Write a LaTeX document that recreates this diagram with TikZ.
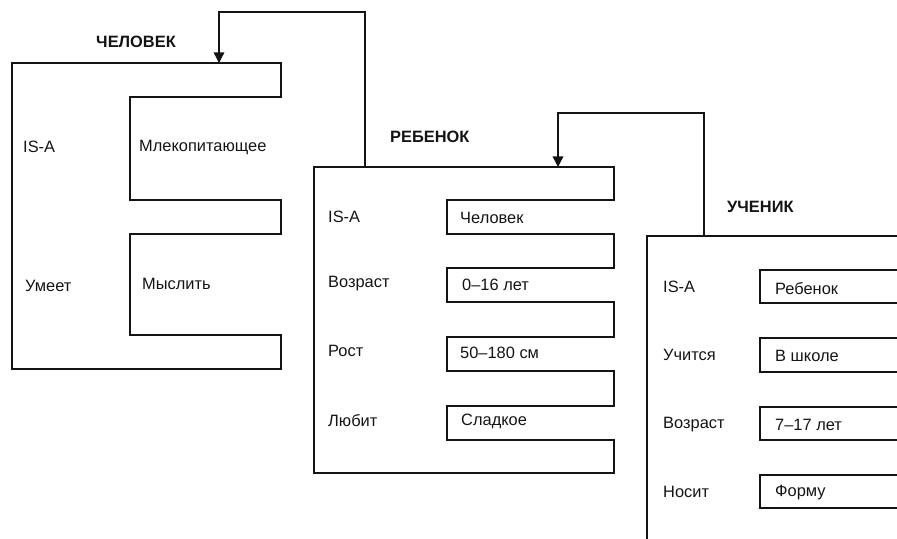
\documentclass[tikz,border=0pt]{standalone}
\usepackage{fontspec}
\setmainfont{Liberation Sans}
\usetikzlibrary{arrows.meta}
\definecolor{qqqqqq}{rgb}{0.08,0.08,0.08}

\begin{document}
\begin{tikzpicture}[line cap=round,line join=miter,>={Triangle[length=9pt,width=9pt]},x=0.03cm,y=-0.03cm,
  frame/.style={color=qqqqqq,line width=1.3pt},
  link/.style={->,color=qqqqqq,line width=1.2pt},
  slot/.style={anchor=west,inner sep=0pt,text=qqqqqq,font=\fontsize{14}{16}\selectfont},
  title/.style={slot,font=\fontsize{14}{16}\selectfont\bfseries}]
\clip(0,0) rectangle (897,539);
\useasboundingbox (0,0) rectangle (897,539);
% ЧЕЛОВЕК
\draw [frame] (12,63) -- (281,63) -- (281,97) -- (130,97) -- (130,200) -- (281,200) -- (281,234) -- (130,234) -- (130,335) -- (281,335) -- (281,369) -- (12,369) -- cycle;
\coordinate (chel-in) at (219,63);
\node[title] (chel) at (96,42) {ЧЕЛОВЕК};
\node[slot] (chel-isa) at (23,147) {IS-A};
\node[slot] (chel-isa-v) at (139,147) {Млекопитающее};
\node[slot] (chel-um) at (25,286) {Умеет};
\node[slot] (chel-um-v) at (142,284) {Мыслить};
% РЕБЕНОК
\draw [frame] (314,167) -- (614,167) -- (614,200) -- (447,200) -- (447,234) -- (614,234) -- (614,268) -- (447,268) -- (447,302) -- (614,302) -- (614,337) -- (447,337) -- (447,371) -- (614,371) -- (614,406) -- (447,406) -- (447,440) -- (614,440) -- (614,473) -- (314,473) -- cycle;
\coordinate (reb-in) at (558,167);
\coordinate (reb-out) at (365,167);
\node[title] (reb) at (390,137) {РЕБЕНОК};
\node[slot] (reb-isa) at (328,217) {IS-A};
\node[slot] (reb-isa-v) at (460,218) {Человек};
\node[slot] (reb-vz) at (328,284) {Возраст};
\node[slot] (reb-vz-v) at (462,285) {0–16 лет};
\node[slot] (reb-rs) at (328,351) {Рост};
\node[slot] (reb-rs-v) at (460,353) {50–180 см};
\node[slot] (reb-lb) at (328,421) {Любит};
\node[slot] (reb-lb-v) at (461,421) {Сладкое};
% УЧЕНИК
\draw [frame] (647,236) -- (920,236) -- (920,270) -- (760,270) -- (760,303) -- (920,303) -- (920,338) -- (760,338) -- (760,372) -- (920,372) -- (920,407) -- (760,407) -- (760,440) -- (920,440) -- (920,475) -- (760,475) -- (760,508) -- (920,508) -- (920,560) -- (647,560) -- cycle;
\coordinate (uch-out) at (704,236);
\node[title] (uch) at (727,207) {УЧЕНИК};
\node[slot] (uch-isa) at (663,287) {IS-A};
\node[slot] (uch-isa-v) at (775,289) {Ребенок};
\node[slot] (uch-uc) at (663,355) {Учится};
\node[slot] (uch-uc-v) at (775,356) {В школе};
\node[slot] (uch-vz) at (663,425) {Возраст};
\node[slot] (uch-vz-v) at (775,425) {7–17 лет};
\node[slot] (uch-ns) at (663,492) {Носит};
\node[slot] (uch-ns-v) at (775,493) {Форму};
% IS-A links
\draw [link] (reb-out) -- ++(0,-155) -| (chel-in);
\draw [link] (uch-out) -- ++(0,-123) -| (reb-in);
\end{tikzpicture}
\end{document}
